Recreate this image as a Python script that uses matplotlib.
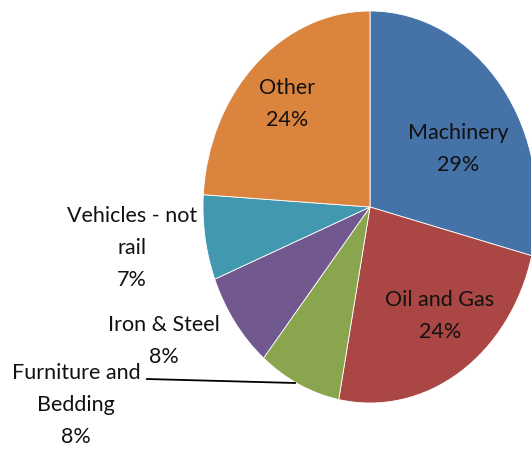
import matplotlib
matplotlib.use("Agg")
import matplotlib.pyplot as plt

categories = ["Machinery", "Oil and Gas", "Furniture and\nBedding", "Iron & Steel", "Vehicles - not\nrail", "Other"]
shares = [29, 24, 8, 8, 7, 24]
colors = ["#4572A7", "#AA4643", "#89A54E", "#71588F", "#4198AF", "#DB843D"]

W, H = 531, 450
fig = plt.figure(figsize=(W / 100, H / 100), dpi=100)
ax = fig.add_axes([0, 0, 1, 1])

# ellipse geometry in pixels
cx, cy = 370, 207          # centre (y from top)
rx, ry = 167, 196          # horizontal / vertical radius
wedges, _ = ax.pie(shares, colors=colors, startangle=90, counterclock=False,
                   radius=1, center=(0, 0),
                   wedgeprops=dict(edgecolor="white", linewidth=0.6))
ax.set_aspect("auto")
ax.set_xlim(-cx / rx, (W - cx) / rx)
ax.set_ylim(-(H - cy) / ry, cy / ry)
ax.axis("off")

font = ["Lato", "DejaVu Sans"]
# label centres in pixels (x, y from top)
label_pos = [(458, 149), (440, 316), (76, 405), (164, 341), (132, 248), (287, 104)]
for name, v, (px, py) in zip(categories, shares, label_pos):
    fig.text(px / W, 1 - py / H, f"{name}\n{v}%", ha="center", va="center",
             fontsize=15.5, family=font, color="#111111", linespacing=1.75)

# leader line for Furniture and Bedding
fig.add_artist(plt.Line2D([147 / W, 295 / W], [1 - 379 / H, 1 - 383 / H],
                          color="black", linewidth=1.3))

fig.savefig("out.png", dpi=100)
